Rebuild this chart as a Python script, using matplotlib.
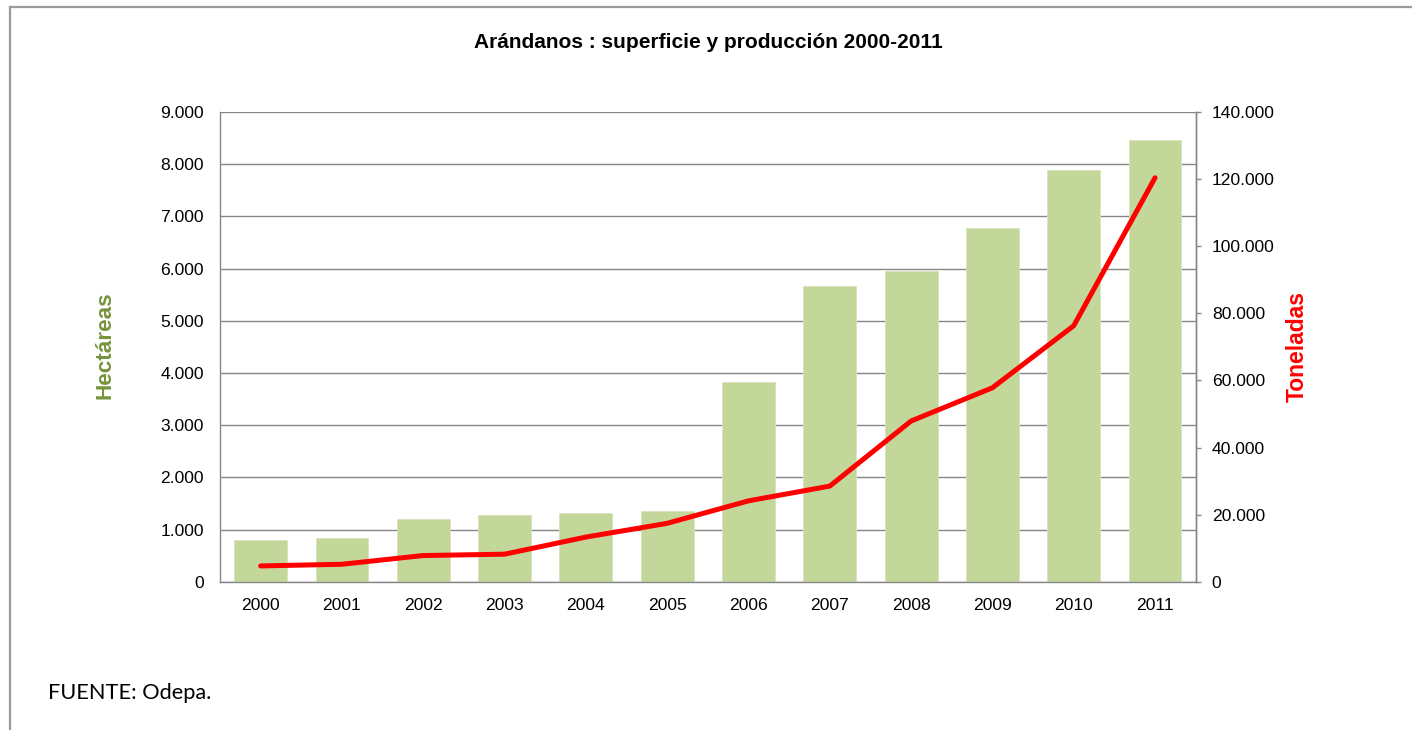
import matplotlib.pyplot as plt
from matplotlib.lines import Line2D
from matplotlib.ticker import FuncFormatter, MultipleLocator

years = ['2000', '2001', '2002', '2003', '2004', '2005',
         '2006', '2007', '2008', '2009', '2010', '2011']
hectareas = [800, 840, 1210, 1275, 1310, 1350, 3820, 5670, 5950, 6780, 7880, 8470]
toneladas = [4700, 5200, 7800, 8200, 13300, 17400, 24100, 28500, 47900, 57800, 76300, 120400]

plt.rcParams['font.family'] = ['Liberation Sans', 'DejaVu Sans']

def miles(v, pos):
    return f"{int(round(v)):,}".replace(',', '.')

grey = '#868686'
fig = plt.figure(figsize=(14.12, 7.30), dpi=100)
ax = fig.add_axes([220 / 1412, 148.3 / 730, 975.7 / 1412, 469.7 / 730])

x = range(len(years))
ax.bar(x, hectareas, width=0.65, color='#C4D79B', edgecolor='#D8E4BC', linewidth=0.6, zorder=2)
ax.set_xlim(-0.5, len(years) - 0.5)
ax.set_ylim(0, 9000)
ax.yaxis.set_major_locator(MultipleLocator(1000))
ax.yaxis.set_major_formatter(FuncFormatter(miles))
ax.set_xticks(list(x))
ax.set_xticklabels(years)
ax.set_axisbelow(True)
ax.grid(axis='y', color=grey, linewidth=1.0)
ax.tick_params(axis='y', length=0, pad=11.5, labelsize=12.6)
ax.tick_params(axis='x', length=0, pad=11.8, labelsize=12.6)
ax.spines['top'].set_visible(False)
for s in ['left', 'bottom', 'right']:
    ax.spines[s].set_color(grey)
    ax.spines[s].set_linewidth(1.0)

ax2 = ax.twinx()
ax2.plot(x, toneladas, color='#FF0000', linewidth=3.6, solid_capstyle='round', zorder=3)
ax2.set_ylim(0, 140000)
ax2.yaxis.set_major_locator(MultipleLocator(20000))
ax2.yaxis.set_major_formatter(FuncFormatter(miles))
ax2.tick_params(axis='y', length=3.6, width=1.0, color=grey, pad=8, labelsize=12.6)
for s in ['top', 'left', 'bottom']:
    ax2.spines[s].set_visible(False)
ax2.spines['right'].set_color(grey)
ax2.spines['right'].set_linewidth(1.0)

fig.text(708 / 1412, 1 - 43 / 730, 'Arándanos : superficie y producción 2000-2011',
         ha='center', va='center', fontsize=15, fontweight='bold')
fig.text(105 / 1412, 1 - 345.5 / 730, 'Hectáreas', rotation=90, ha='center', va='center',
         fontsize=16.2, fontweight='bold', color='#77933C')
fig.text(1297 / 1412, 1 - 346.5 / 730, 'Toneladas', rotation=90, ha='center', va='center',
         fontsize=16.5, fontweight='bold', color='#FF0000')
fig.text(48 / 1412, 1 - 693 / 730, 'FUENTE: Odepa.', ha='left', va='center',
         fontsize=15.7, family=['Lato', 'DejaVu Sans'])

# marco exterior
fig.add_artist(Line2D([10 / 1412, 10 / 1412], [0, 1 - 7 / 730], color='#9A9A9A', linewidth=1.6))
fig.add_artist(Line2D([10 / 1412, 1], [1 - 7 / 730, 1 - 7 / 730], color='#9A9A9A', linewidth=1.6))

fig.savefig('out.png', dpi=100)
